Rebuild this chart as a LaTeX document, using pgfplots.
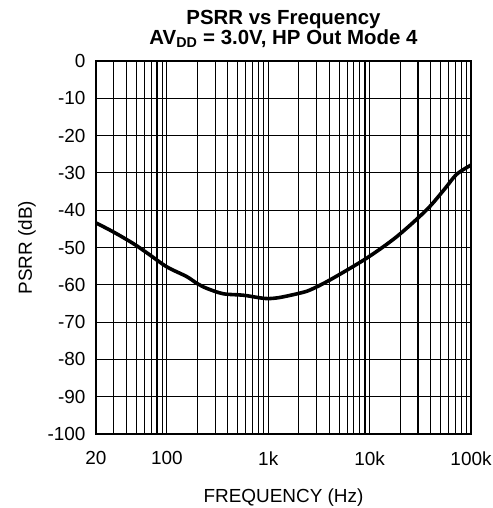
\documentclass[border=0pt]{standalone}
\usepackage{fontspec}
\setmainfont{Liberation Sans}
\usepackage{pgfplots}
\pgfplotsset{compat=1.18}
\begin{document}
\fontsize{19}{21}\selectfont
\begin{tikzpicture}
\useasboundingbox (-96bp,-74bp) rectangle (397bp,434bp);
\begin{axis}[
  at={(0,0)}, anchor=south west,
  scale only axis, width=375bp, height=373bp,
  xmode=log, xmin=20, xmax=100000, ymin=-100, ymax=0,
  xtick={20,100,1000,10000,100000},
  xticklabels={20,100,1k,10k,100k},
  minor xtick={30,40,50,60,70,80,90,200,300,400,500,600,700,800,900,2000,3000,4000,5000,6000,7000,8000,9000,20000,30000,40000,50000,60000,70000,80000,90000},
  ytick={-100,-90,-80,-70,-60,-50,-40,-30,-20,-10,0},
  yticklabels={-100,-90,-80,-70,-60,-50,-40,-30,-20,-10,0},
  major tick length=0pt, minor tick length=0pt,
  grid=both,
  major grid style={black, line width=1.1pt},
  minor grid style={black, line width=1.1pt},
  axis line style={black, line width=1.3pt},
  tick label style={font=\fontsize{19}{21}\selectfont},
  yticklabel style={xshift=-4bp},
  xticklabel style={yshift=-11bp},
  xlabel={FREQUENCY (Hz)},
  ylabel={PSRR (dB)},
  label style={font=\fontsize{19}{21}\selectfont},
  xlabel style={yshift=-11bp},
  ylabel style={yshift=-1bp},
  title={\textbf{PSRR vs Frequency}\\\textbf{AV\textsubscript{DD} = 3.0V, HP Out Mode 4}},
  title style={align=center, font=\fontsize{20.5}{19}\selectfont, yshift=1bp},
]
\addplot[black, line width=3.6pt, smooth] coordinates {
(20,-43.4) (30,-45.9) (47,-49) (68,-52) (100,-55.2) (157,-57.8) (200,-59.7)
(250,-61) (360,-62.4) (570,-62.8) (830,-63.5) (1000,-63.7) (1300,-63.4)
(2000,-62.3) (2580,-61.4) (4060,-58.7) (9300,-52.9) (18500,-47.1)
(36500,-39.9) (55000,-34.3) (72000,-30.4) (100000,-27.9)
};
\end{axis}
\end{tikzpicture}
\end{document}
